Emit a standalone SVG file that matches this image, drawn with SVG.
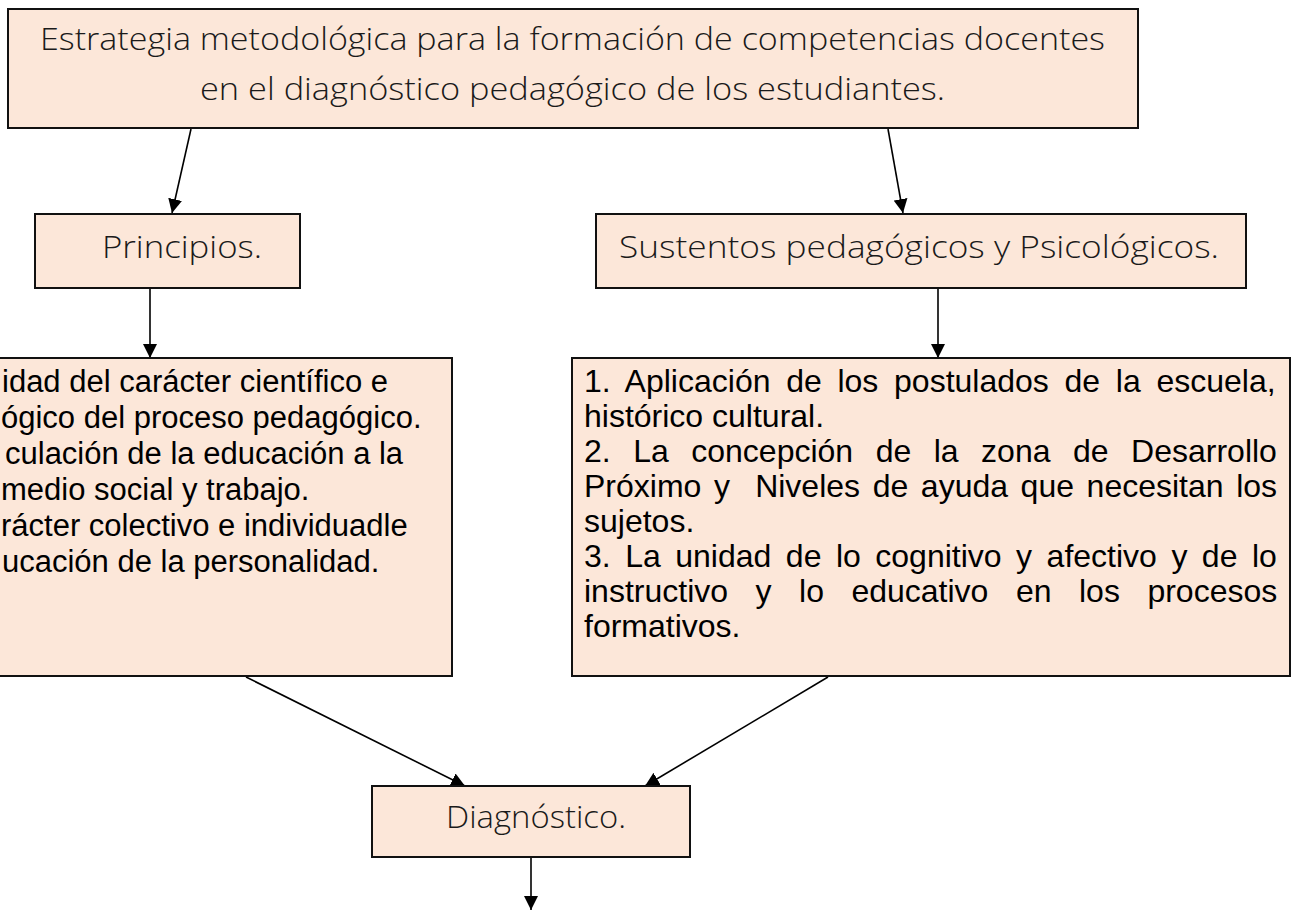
<svg xmlns="http://www.w3.org/2000/svg" width="1299" height="910" viewBox="0 0 1299 910">
<defs>
<style>
.box{fill:#FCE7D9;stroke:#111;stroke-width:2}
.hd{font-family:"Open Sans","DejaVu Sans",sans-serif;font-weight:300;font-size:31px;fill:#1a1a1a}
.bd{font-family:"Liberation Sans",Arial,sans-serif;font-size:32px;fill:#000;white-space:pre}
.bl{font-size:31px}
.con{stroke:#000;stroke-width:1.6;fill:none;marker-end:url(#ah)}
</style>
<marker id="ah" markerUnits="userSpaceOnUse" markerWidth="16" markerHeight="14" refX="14" refY="7" orient="auto">
<path d="M0,0 L14,7 L0,14 Z" fill="#000"/>
</marker>
</defs>
<rect width="1299" height="910" fill="#fff"/>
<g id="connectors">
<line class="con" x1="191" y1="129" x2="172" y2="213"/>
<line class="con" x1="888" y1="129" x2="903" y2="213"/>
<line class="con" x1="150" y1="289" x2="150" y2="358"/>
<line class="con" x1="938" y1="289" x2="938" y2="358"/>
<line class="con" x1="246" y1="677" x2="465" y2="786"/>
<line class="con" x1="828" y1="677" x2="645" y2="786"/>
<line class="con" x1="531" y1="857" x2="531" y2="910"/>
</g>
<g id="top">
<rect class="box" x="8" y="9" width="1130" height="119"/>
<text class="hd" x="40" y="50" textLength="1065" lengthAdjust="spacingAndGlyphs">Estrategia metodológica para la formación de competencias docentes</text>
<text class="hd" x="200" y="100" textLength="745" lengthAdjust="spacingAndGlyphs">en el diagnóstico pedagógico de los estudiantes.</text>
</g>
<g id="principios">
<rect class="box" x="35" y="214" width="265" height="74"/>
<text class="hd" x="102" y="258" textLength="160" lengthAdjust="spacingAndGlyphs">Principios.</text>
</g>
<g id="sustentos">
<rect class="box" x="596" y="214" width="650" height="74"/>
<text class="hd" x="619" y="258" textLength="600" lengthAdjust="spacingAndGlyphs">Sustentos pedagógicos y Psicológicos.</text>
</g>
<g id="principios-list">
<rect class="box" x="-5" y="358" width="457" height="318"/>
<text class="bd bl" x="2" y="392">idad del carácter científico e</text>
<text class="bd bl" x="1" y="428">ógico del proceso pedagógico.</text>
<text class="bd bl" x="5" y="464">culación de la educación a la</text>
<text class="bd bl" x="1" y="500">medio social y trabajo.</text>
<text class="bd bl" x="1" y="536">rácter colectivo e individuadle</text>
<text class="bd bl" x="2" y="572">ucación de la personalidad.</text>
</g>
<g id="sustentos-list">
<rect class="box" x="572" y="358" width="718" height="318"/>
<text class="bd" x="584" y="392" word-spacing="6.8">1. Aplicación de los postulados de la escuela,</text>
<text class="bd" x="584" y="427">histórico cultural.</text>
<text class="bd" x="584" y="462" word-spacing="13.6">2. La concepción de la zona de Desarrollo</text>
<text class="bd" x="584" y="497" word-spacing="3.7">Próximo y  Niveles de ayuda que necesitan los</text>
<text class="bd" x="584" y="532">sujetos.</text>
<text class="bd" x="584" y="567" word-spacing="5.6">3. La unidad de lo cognitivo y afectivo y de lo</text>
<text class="bd" x="584" y="602" word-spacing="18.6">instructivo y lo educativo en los procesos</text>
<text class="bd" x="584" y="637">formativos.</text>
</g>
<g id="diagnostico">
<rect class="box" x="372" y="786" width="318" height="71"/>
<text class="hd" x="446" y="828" textLength="180" lengthAdjust="spacingAndGlyphs">Diagnóstico.</text>
</g>
</svg>
